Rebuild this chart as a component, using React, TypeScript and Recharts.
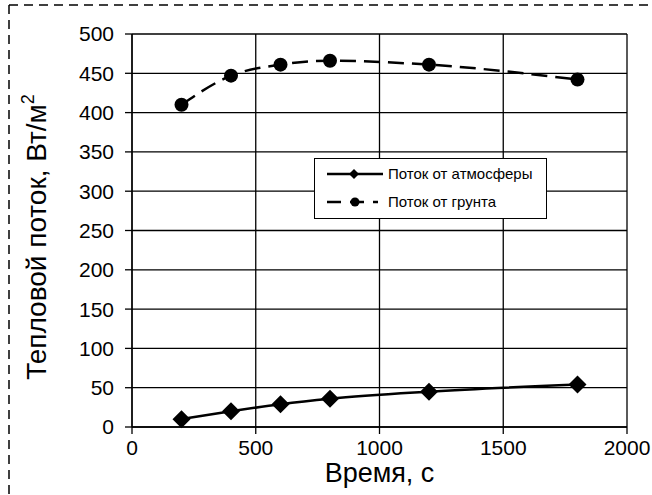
import React from 'react';
import { LineChart, Line, XAxis, YAxis, CartesianGrid } from 'recharts';

const times = [200, 400, 600, 800, 1200, 1800];
const atmosphereFlux = [10, 20, 29, 36, 45, 54];
const groundFlux = [410, 447, 461, 466, 461, 442];
const xTicks = [0, 500, 1000, 1500, 2000];
const yTicks = [0, 50, 100, 150, 200, 250, 300, 350, 400, 450, 500];

const data = times.map((t, i) => ({ t, atm: atmosphereFlux[i], ground: groundFlux[i] }));

const FONT = '"Liberation Sans", Arial, sans-serif';

const Diamond = (props: any) => {
  const { cx, cy } = props;
  if (cx == null || cy == null) return null;
  const s = 9;
  return <path d={`M${cx},${cy - s}L${cx + s},${cy}L${cx},${cy + s}L${cx - s},${cy}Z`} fill="#000" />;
};

const Circle = (props: any) => {
  const { cx, cy } = props;
  if (cx == null || cy == null) return null;
  return <circle cx={cx} cy={cy} r={7} fill="#000" />;
};

// legend box drawn over the plot, like the original
const LegendBox = () => (
  <div style={{ position: 'absolute', left: 314, top: 158, width: 233, height: 61, border: '1.5px solid #000', background: '#fff', fontFamily: FONT, fontSize: 15, boxSizing: 'border-box' }}>
    <svg width={75} height={58} style={{ position: 'absolute', left: 0, top: 0 }}>
      <line x1={12} x2={68} y1={15} y2={15} stroke="#000" strokeWidth={2.5} />
      <path d="M39,10L44,15L39,20L34,15Z" fill="#000" />
      <line x1={12} x2={63} y1={43} y2={43} stroke="#000" strokeWidth={2.5} strokeDasharray="14 9" />
      <circle cx={40} cy={43} r={4.5} fill="#000" />
    </svg>
    <div style={{ position: 'absolute', left: 73, top: 6 }}>Поток от атмосферы</div>
    <div style={{ position: 'absolute', left: 73, top: 34 }}>Поток от грунта</div>
  </div>
);

const YLabel = () => (
  <text x={0} y={0} transform="translate(46,237) rotate(-90)" textAnchor="middle" fontFamily={FONT} fontSize={28} fill="#000">
    Тепловой поток,  Вт/м<tspan dy={-12} fontSize={18}>2</tspan>
  </text>
);

export default function App() {
  return (
    <div style={{ position: 'absolute', left: 0, top: 0, width: 652, height: 495, background: '#fff' }}>
      <svg width={652} height={495} style={{ position: 'absolute', left: 0, top: 0 }}>
        <line x1={9} x2={652} y1={5} y2={5} stroke="#000" strokeWidth={1.5} strokeDasharray="9 6" />
        <line x1={9} x2={9} y1={5} y2={495} stroke="#000" strokeWidth={1.5} strokeDasharray="9 6" />
      </svg>
      <div style={{ position: 'absolute', left: 0, top: 0 }}>
        <LineChart width={652} height={495} data={data} margin={{ top: 34, right: 25, bottom: 38, left: 72 }}>
          <CartesianGrid stroke="#000" strokeWidth={1.3} />
          <XAxis
            dataKey="t"
            type="number"
            domain={[0, 2000]}
            ticks={xTicks}
            stroke="#000"
            strokeWidth={1.3}
            tickSize={7}
            tickMargin={6}
            tick={{ fill: '#000', fontSize: 21, fontFamily: FONT }}
            height={30}
            label={{ value: 'Время, с', position: 'insideBottom', offset: -25, fill: '#000', fontSize: 27, fontFamily: FONT }}
          />
          <YAxis
            type="number"
            domain={[0, 500]}
            ticks={yTicks}
            stroke="#000"
            strokeWidth={1.3}
            tickSize={7}
            tickMargin={11}
            width={60}
            tick={{ fill: '#000', fontSize: 21, fontFamily: FONT }}
            label={<YLabel />}
          />
          <Line
            type="monotone"
            dataKey="atm"
            stroke="#000"
            strokeWidth={2.5}
            dot={<Diamond />}
            isAnimationActive={false}
          />
          <Line
            type="monotone"
            dataKey="ground"
            stroke="#000"
            strokeWidth={2.5}
            strokeDasharray="16 8"
            dot={<Circle />}
            isAnimationActive={false}
          />
        </LineChart>
      </div>
      <LegendBox />
    </div>
  );
}
